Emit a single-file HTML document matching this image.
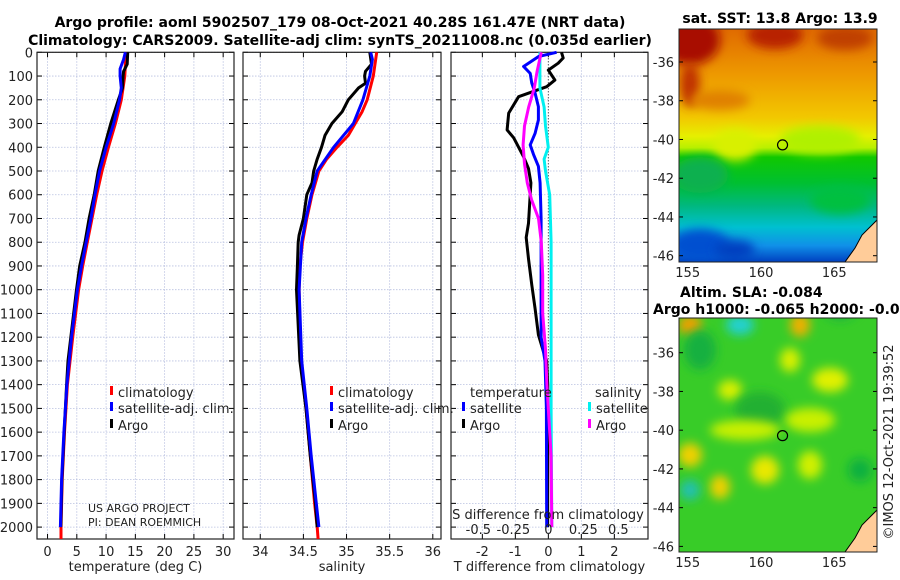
<!DOCTYPE html>
<html><head><meta charset="utf-8">
<style>
html,body{margin:0;padding:0;background:#fff;}
svg{display:block;font-family:"DejaVu Sans","Liberation Sans",sans-serif;}
</style></head>
<body>
<svg id="c" width="900" height="580" viewBox="0 0 900 580" xmlns="http://www.w3.org/2000/svg">
<defs>
  <clipPath id="clipSST"><rect x="679" y="29" width="198" height="233"/></clipPath>
  <clipPath id="clipSLA"><rect x="679" y="318" width="198" height="234"/></clipPath>
  <linearGradient id="gSST" x1="0" y1="0" x2="0" y2="1">
    <stop offset="0" stop-color="#e06a00"/>
    <stop offset="0.2" stop-color="#ee9a00"/>
    <stop offset="0.38" stop-color="#f2c800"/>
    <stop offset="0.46" stop-color="#e6ef00"/>
    <stop offset="0.51" stop-color="#b8f000"/>
    <stop offset="0.55" stop-color="#10c800"/>
    <stop offset="0.66" stop-color="#00c030"/>
    <stop offset="0.76" stop-color="#00b880"/>
    <stop offset="0.85" stop-color="#00c0d0"/>
    <stop offset="0.93" stop-color="#1090e8"/>
    <stop offset="1" stop-color="#0040c0"/>
  </linearGradient>
  <filter id="blur" x="-50%" y="-50%" width="200%" height="200%"><feGaussianBlur stdDeviation="5"/></filter>
</defs>
<g id="titles" font-weight="bold" font-size="14" fill="#000">
  <text x="340" y="27" text-anchor="middle">Argo profile: aoml 5902507_179 08-Oct-2021 40.28S 161.47E (NRT data)</text>
  <text x="340" y="45" text-anchor="middle">Climatology: CARS2009. Satellite-adj clim: synTS_20211008.nc (0.035d earlier)</text>
  <text x="780" y="23" text-anchor="middle">sat. SST: 13.8 Argo: 13.9</text>
  <text x="680" y="297">Altim. SLA: -0.084</text>
  <text x="653" y="314">Argo h1000: -0.065 h2000: -0.093</text>
</g>
<g id="plots"></g>
<g id="maps"></g>
</svg>
<script>
const depthTicks = [0,100,200,300,400,500,600,700,800,900,1000,1100,1200,1300,1400,1500,1600,1700,1800,1900,2000];
const tempTicks = [0,5,10,15,20,25,30];
const salTicks = [34,34.5,35,35.5,36];
const salTickLabels = ["34","34.5","35","35.5","36"];
const tdiffTicks = [-2,-1,0,1,2];
const sdiffTicks = [-0.5,-0.25,0,0.25,0.5];
const sdiffTickLabels = ["-0.5","-0.25","0","0.25","0.5"];

const tClimDepth = [0,100,200,300,400,500,600,700,800,900,1000,1200,1400,1600,1800,2000,2050];
const tClimVal   = [13.4,13.2,12.6,11.6,10.4,9.3,8.4,7.6,6.8,6.0,5.3,4.3,3.4,2.9,2.5,2.3,2.3];
const tSatDepth  = [0,30,70,100,150,200,300,400,500,600,700,800,900,1000,1200,1400,1600,1800,2000];
const tSatVal    = [13.3,13.0,12.4,12.4,12.6,12.3,11.3,10.0,8.9,8.1,7.4,6.6,5.8,5.1,4.1,3.3,2.8,2.4,2.2];
const tArgoDepth = [0,50,80,100,150,200,300,400,500,600,700,800,900,1000,1300,1400,1600,1800,2000];
const tArgoVal   = [13.7,13.6,13.0,12.9,12.8,12.1,10.8,9.7,8.65,7.97,7.1,6.4,5.5,4.95,3.5,3.25,2.85,2.45,2.27];

const sClimDepth = [0,100,200,250,300,350,400,450,500,600,700,800,900,1000,1300,1500,1700,1900,2000,2050];
const sClimVal   = [35.35,35.31,35.24,35.18,35.1,35.02,34.89,34.77,34.68,34.60,34.54,34.49,34.46,34.45,34.47,34.53,34.58,34.63,34.66,34.67];
const sSatDepth  = [0,30,100,200,300,400,500,600,700,800,1000,1300,1500,1700,1900,2000];
const sSatVal    = [35.28,35.30,35.27,35.19,35.08,34.85,34.66,34.59,34.53,34.48,34.45,34.48,34.54,34.59,34.65,34.68];
const sArgoDepth = [0,50,80,100,130,150,200,250,300,350,400,450,500,550,600,700,770,800,900,1000,1300,1500,1700,1900,2000];
const sArgoVal   = [35.27,35.29,35.22,35.21,35.22,35.14,35.02,34.95,34.83,34.75,34.71,34.66,34.62,34.60,34.54,34.50,34.45,34.44,34.43,34.42,34.46,34.53,34.58,34.64,34.66];

const dTSatDepth = [0,18,60,89,130,172,229,285,341,390,430,480,550,700,1200,1300,1500,2000];
const dTSatVal   = [0.25,-0.3,-0.75,-0.55,-0.5,-0.4,-0.3,-0.3,-0.4,-0.55,-0.45,-0.3,-0.25,-0.22,-0.22,-0.1,-0.06,-0.05];
const dTArgoDepth = [0,24,46,75,117,145,187,256,327,360,440,490,550,600,720,780,870,980,1080,1190,1260,1300,1400,2000];
const dTArgoVal   = [0.4,0.45,0.3,0.0,0.2,-0.05,-0.9,-1.2,-1.25,-1.05,-0.75,-0.6,-0.53,-0.55,-0.6,-0.67,-0.6,-0.5,-0.4,-0.3,-0.15,-0.05,-0.02,-0.02];
const dSSatDepth = [0,150,230,310,400,450,500,600,800,1500,2000];
const dSSatVal   = [-0.06,-0.06,-0.03,-0.02,0,-0.03,-0.02,0.01,0.02,0.02,0.025];
const dSArgoDepth = [0,80,150,230,310,390,470,550,620,700,800,940,1100,1250,1400,1500,1700,2000];
const dSArgoVal   = [-0.05,-0.08,-0.1,-0.14,-0.17,-0.18,-0.17,-0.15,-0.12,-0.07,-0.05,-0.04,-0.04,-0.02,-0.01,0,0.02,0.025];

const latTicks = [-36,-38,-40,-42,-44,-46];
const lonTicks = [155,160,165];
const argoLon = 161.47, argoLat = -40.28;

const NS="http://www.w3.org/2000/svg";
const plots=document.getElementById('plots');
const maps=document.getElementById('maps');
function mk(tag,attrs,parent){const e=document.createElementNS(NS,tag);for(const k in attrs)e.setAttribute(k,attrs[k]);(parent||plots).appendChild(e);return e;}
const TOP=52.3, BOT=539;
function yD(d){return TOP + d*0.2374;}

const panels=[
 {x0:37,x1:234,vmin:-1.8,vmax:31.85,ticks:tempTicks,labels:tempTicks.map(String),xl:"temperature (deg C)",name:"temperature"},
 {x0:243,x1:441,vmin:33.8,vmax:36.095,ticks:salTicks,labels:salTickLabels,xl:"salinity",name:"salinity"},
 {x0:451,x1:648,vmin:-2.95,vmax:3.02,ticks:tdiffTicks,labels:tdiffTicks.map(String),xl:"T difference from climatology",name:"difference"}
];
panels.forEach(p=>{p.fx=v=>p.x0+(v-p.vmin)/(p.vmax-p.vmin)*(p.x1-p.x0);});

panels.forEach((p,i)=>{
  const g=mk('g',{});
  
  
  depthTicks.forEach(d=>{
    const l=mk('line',{x1:p.x0,x2:p.x1,y1:yD(d),y2:yD(d),stroke:'#b8c0e0','stroke-width':0.8,'stroke-dasharray':'1.5,1.5'},g);
    
    
    mk('line',{x1:p.x0,x2:p.x0+5,y1:yD(d),y2:yD(d),stroke:'#000','stroke-width':1},g);
    mk('line',{x1:p.x1-5,x2:p.x1,y1:yD(d),y2:yD(d),stroke:'#000','stroke-width':1},g);
  });
  p.ticks.forEach((t,k)=>{
    const x=p.fx(t);
    const l=mk('line',{x1:x,x2:x,y1:TOP,y2:BOT,stroke:'#b8c0e0','stroke-width':0.8,'stroke-dasharray':'1.5,1.5'},g);
    
    
    mk('line',{x1:x,x2:x,y1:BOT,y2:BOT-5,stroke:'#000'},g);
    mk('line',{x1:x,x2:x,y1:TOP,y2:TOP+5,stroke:'#000'},g);
    const tx=mk('text',{x:x,y:556,'text-anchor':'middle','font-size':13,fill:'#222'},g);
    tx.textContent=p.labels[k];
    
    
  });
  const fr=mk('rect',{x:p.x0,y:TOP,width:p.x1-p.x0,height:BOT-TOP,fill:'none',stroke:'#222','stroke-width':1.2},g);
  
  
  const xl=mk('text',{x:(p.x0+p.x1)/2,y:571,'text-anchor':'middle','font-size':13,fill:'#222'},g);
  xl.textContent=p.xl;
  
  
});
depthTicks.forEach(d=>{
  const t=mk('text',{x:33,y:yD(d)+5,'text-anchor':'end','font-size':13,fill:'#222'});
  t.textContent=String(d);
  
  
});

function line(p,ds,vs,color,w,name,fx){
  const f=fx||p.fx;
  const pts=ds.map((d,i)=>f(vs[i]).toFixed(1)+','+yD(d).toFixed(1)).join(' ');
  const e=mk('polyline',{points:pts,fill:'none',stroke:color,'stroke-width':w,'stroke-linejoin':'round'});
  
  
}
const P0=panels[0],P1=panels[1],P2=panels[2];
line(P0,tClimDepth,tClimVal,'#f00',3,'temp-climatology-line');
line(P0,tArgoDepth,tArgoVal,'#000',3,'temp-argo-line');
line(P0,tSatDepth,tSatVal,'#00f',3,'temp-satellite-line');
line(P1,sClimDepth,sClimVal,'#f00',3,'sal-climatology-line');
line(P1,sArgoDepth,sArgoVal,'#000',3,'sal-argo-line');
line(P1,sSatDepth,sSatVal,'#00f',3,'sal-satellite-line');
const z=mk('line',{x1:P2.fx(0),x2:P2.fx(0),y1:TOP,y2:yD(2000),stroke:'#333','stroke-width':1,'stroke-dasharray':'1,2'});


const sx=v=>P2.fx(0)+v*140;
line(P2,dTArgoDepth,dTArgoVal,'#000',3,'tdiff-argo-line');
line(P2,dSSatDepth,dSSatVal,'#00f0f0',3,'sdiff-satellite-line',sx);
line(P2,dTSatDepth,dTSatVal,'#00f',3,'tdiff-satellite-line');
line(P2,dSArgoDepth,dSArgoVal,'#f0f',3,'sdiff-argo-line',sx);

function txt(x,y,s,name,size,anchor){const t=mk('text',{x:x,y:y,'font-size':size||13,fill:'#222','text-anchor':anchor||'start'});t.textContent=s;return t;}
function leg(x,y,color,label,name){
  const r=mk('rect',{x:x,y:y-11,width:3,height:9,fill:color});
  
  
  txt(x+8,y,label,name+'-label');
}
leg(110,397,'#f00','climatology','legend-t-clim');
leg(110,413,'#00f','satellite-adj. clim.','legend-t-sat');
leg(110,430,'#000','Argo','legend-t-argo');
leg(330,397,'#f00','climatology','legend-s-clim');
leg(330,413,'#00f','satellite-adj. clim.','legend-s-sat');
leg(330,430,'#000','Argo','legend-s-argo');
txt(470,397,'temperature','legend-temperature-heading');
leg(462,413,'#00f','satellite','legend-tdiff-sat');
leg(462,430,'#000','Argo','legend-tdiff-argo');
txt(595,397,'salinity','legend-salinity-heading');
leg(588,413,'#00f0f0','satellite','legend-sdiff-sat');
leg(588,430,'#f0f','Argo','legend-sdiff-argo');
txt(88,512,'US ARGO PROJECT','project-label',11);
txt(88,526,'PI: DEAN ROEMMICH','pi-label',11);
txt(548,519,'S difference from climatology','s-diff-axis-title',13,'middle');
sdiffTicks.forEach((v,k)=>{txt(sx(v),534,sdiffTickLabels[k],'s-diff-tick-label',13,'middle');});

function mapAxes(y0,y1,latRef,name){
  const fx=lon=>687.7+(lon-155)*14.66;
  const fy=lat=>latRef+(-36-lat)*19.37;
  latTicks.forEach(l=>{
    const y=fy(l);
    const t=mk('text',{x:674,y:y+5,'text-anchor':'end','font-size':13,fill:'#222'},maps);
    t.textContent=String(l);
    
    
    mk('line',{x1:679,x2:683,y1:y,y2:y,stroke:'#000'},maps);
    mk('line',{x1:873,x2:877,y1:y,y2:y,stroke:'#000'},maps);
  });
  lonTicks.forEach(l=>{
    const x=fx(l);
    const t=mk('text',{x:x,y:y1+15,'text-anchor':'middle','font-size':13,fill:'#222'},maps);
    t.textContent=String(l);
    
    
  });
  const c=mk('circle',{cx:fx(argoLon),cy:fy(argoLat),r:5,fill:'none',stroke:'#000','stroke-width':1.2},maps);
  
  
  const fr=mk('rect',{x:679,y:y0,width:198,height:y1-y0,fill:'none',stroke:'#222','stroke-width':1},maps);
  
  
}
const gs=mk('g',{'clip-path':'url(#clipSST)'},maps);


mk('rect',{x:679,y:29,width:198,height:233,fill:'url(#gSST)'},gs);
const sstBlobs=[[690,40,30,25,'#a81000'],[775,35,28,14,'#b82000'],[845,38,28,12,'#c04000'],[690,85,10,22,'#c03000'],[720,100,30,10,'#e08000'],[735,145,22,16,'#d8f000'],[820,140,40,14,'#b0f000'],[700,175,28,18,'#10b050'],[840,200,30,14,'#00c040'],[700,245,30,16,'#0050d0'],[735,250,20,10,'#0040c0']];
sstBlobs.forEach(b=>mk('ellipse',{cx:b[0],cy:b[1],rx:b[2],ry:b[3],fill:b[4],filter:'url(#blur)'},gs));
mk('polygon',{points:'877,220 877,262 845,262 855,248 862,235',fill:'#ffcc99',stroke:'#000','stroke-width':1},gs);
mapAxes(29,262,62,'sst-map');
const gl=mk('g',{'clip-path':'url(#clipSLA)'},maps);


mk('rect',{x:679,y:318,width:198,height:234,fill:'#38cc28'},gl);
const slaBlobs=[[690,325,12,10,'#f0a000'],[740,325,14,10,'#20d0d0'],[800,325,10,12,'#f0b000'],[730,390,12,10,'#d8f000'],[790,360,10,12,'#d8f000'],[830,380,18,12,'#e0f000'],[700,350,16,20,'#18b040'],[760,410,25,18,'#20b030'],[745,430,35,10,'#c8f000'],[810,420,25,12,'#c8f000'],[690,455,12,12,'#f0d000'],[765,470,14,14,'#e8e800'],[810,465,12,14,'#d0f000'],[720,487,10,12,'#f0d000'],[690,490,10,10,'#20c0b0'],[840,300,20,20,'#1ab040'],[860,470,12,12,'#10b040']];
slaBlobs.forEach(b=>mk('ellipse',{cx:b[0],cy:b[1],rx:b[2],ry:b[3],fill:b[4],filter:'url(#blur)'},gl));
mk('polygon',{points:'877,510 877,552 845,552 855,538 862,525',fill:'#ffcc99',stroke:'#000','stroke-width':1},gl);
mapAxes(318,552,352.7,'sla-map');
const cp=mk('text',{x:0,y:0,'font-size':13,fill:'#222','text-anchor':'middle',transform:'translate(893,442) rotate(-90)'},maps);
cp.textContent='©IMOS 12-Oct-2021 19:39:52';


</script>
</body></html>
